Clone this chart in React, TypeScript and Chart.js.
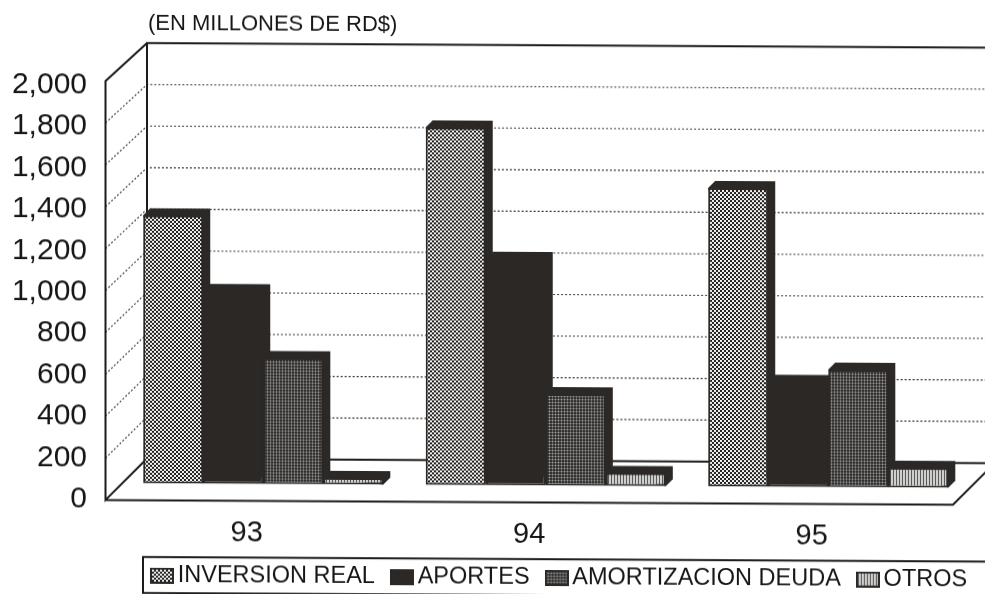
import React, { useEffect, useRef } from "react";
import { Chart, registerables } from "chart.js";

Chart.register(...registerables);

const categories = ["93", "94", "95"];
const inversionReal = [1285, 1715, 1432];
const aportes = [925, 1086, 503];
const amortizacionDeuda = [604, 439, 563];
const otros = [31, 62, 95];
const seriesNames = ["INVERSION REAL", "APORTES", "AMORTIZACION DEUDA", "OTROS"];
const yTickValues = [0, 200, 400, 600, 800, 1000, 1200, 1400, 1600, 1800, 2000];
const titleText = "(EN MILLONES DE RD$)";

const AREA_TOP = 42.2;
const AREA_BOTTOM = 499.4;
const DARK = "#2b2826";
const INK = "#161616";
const FONT = "'Liberation Sans', Arial, sans-serif";

function range(zeroPx: number, topPx: number) {
  const k = (zeroPx - topPx) / 2000;
  return { min: (zeroPx - AREA_BOTTOM) / k, max: (zeroPx - AREA_TOP) / k };
}

function tile(w: number, h: number, paint: (c: CanvasRenderingContext2D) => void) {
  const cv = document.createElement("canvas");
  cv.width = w;
  cv.height = h;
  paint(cv.getContext("2d")!);
  return cv;
}

const paints: ((c: CanvasRenderingContext2D) => void)[] = [
  (c) => {
    c.fillStyle = "#232120";
    c.fillRect(0, 0, 4, 4);
    c.fillStyle = "#f2f2f0";
    c.fillRect(0, 0, 2, 2);
    c.fillRect(2, 2, 2, 2);
  },
  (c) => {
    c.fillStyle = DARK;
    c.fillRect(0, 0, 3, 3);
  },
  (c) => {
    c.fillStyle = "#33312f";
    c.fillRect(0, 0, 3, 3);
    c.fillStyle = "#5f5e5c";
    c.fillRect(0, 0, 3, 1);
    c.fillRect(0, 0, 1, 3);
    c.fillStyle = "#a0a09e";
    c.fillRect(0, 0, 1, 1);
  },
  (c) => {
    c.fillStyle = "#cfcfcd";
    c.fillRect(0, 0, 3, 3);
    c.fillStyle = "#5a5856";
    c.fillRect(2, 0, 1, 3);
  },
];
const tileSizes = [4, 3, 3, 3];

function makeSwatch(i: number) {
  const pat = tile(tileSizes[i], tileSizes[i], paints[i]);
  return tile(24, 16, (c) => {
    c.fillStyle = c.createPattern(pat, "repeat")!;
    c.fillRect(0, 0, 24, 16);
    c.strokeStyle = DARK;
    c.lineWidth = 2;
    c.strokeRect(1, 1, 22, 14);
  });
}

const noPadding = (s: any) => {
  s.paddingTop = 0;
  s.paddingBottom = 0;
  s.paddingLeft = 0;
  s.paddingRight = 0;
};

const stage3d = {
  id: "stage3d",
  beforeLayout(chart: any) {
    const lg = chart.legend;
    const baseFit = Object.getPrototypeOf(lg).fit;
    lg.fit = function () {
      baseFit.call(lg);
      lg.height = 38;
    };
  },
  beforeDraw(chart: any) {
    chart.titleBlock.left = 148;
    chart.legend.left = 135;
    chart.legend.right = 1100;
    chart.legend.top = 540;
    const { ctx, scales } = chart;
    const back = scales.yBack;
    const front = scales.yFront;
    const bx = 147;
    const fx = 105.5;
    const rx = 1000;
    ctx.save();
    ctx.strokeStyle = "#3a3836";
    ctx.lineWidth = 1.1;
    ctx.setLineDash([2, 2]);
    for (let v = 200; v < 2000; v += 200) {
      ctx.beginPath();
      ctx.moveTo(fx, front.getPixelForValue(v));
      ctx.lineTo(bx, back.getPixelForValue(v));
      ctx.lineTo(rx, back.getPixelForValue(v));
      ctx.stroke();
    }
    ctx.setLineDash([]);
    ctx.strokeStyle = "#1c1b1a";
    ctx.lineWidth = 2;
    const b0 = back.getPixelForValue(0);
    const bT = back.getPixelForValue(2000);
    const f0 = front.getPixelForValue(0);
    const fT = front.getPixelForValue(2000);
    ctx.beginPath();
    ctx.moveTo(rx, bT);
    ctx.lineTo(bx, bT);
    ctx.lineTo(bx, b0);
    ctx.lineTo(rx, b0);
    ctx.moveTo(bx, bT);
    ctx.lineTo(fx, fT);
    ctx.lineTo(fx, f0);
    ctx.lineTo(bx, b0);
    ctx.moveTo(fx, f0);
    ctx.lineTo(953, f0);
    ctx.lineTo(953 + (f0 - b0), b0);
    ctx.stroke();
    // legend frame
    ctx.lineWidth = 2;
    ctx.strokeRect(143, 556.2, 900, 36);
    ctx.restore();
  },
  beforeDatasetsDraw(chart: any) {
    const { ctx } = chart;
    const d = 7;
    ctx.save();
    ctx.fillStyle = DARK;
    chart.data.datasets.forEach((_: any, i: number) => {
      chart.getDatasetMeta(i).data.forEach((bar: any) => {
        const left = bar.x - bar.width / 2;
        const right = bar.x + bar.width / 2;
        ctx.beginPath();
        ctx.moveTo(left, bar.y);
        ctx.lineTo(left + d, bar.y - d);
        ctx.lineTo(right + d, bar.y - d);
        ctx.lineTo(right + d, bar.base - d);
        ctx.lineTo(right, bar.base);
        ctx.closePath();
        ctx.fill();
      });
    });
    ctx.restore();
  },
};

export default function App() {
  const ref = useRef<HTMLCanvasElement>(null);
  useEffect(() => {
    const ctx = ref.current!.getContext("2d")!;
    const fills = paints.map((p, i) =>
      ctx.createPattern(tile(tileSizes[i], tileSizes[i], p), "repeat")
    );
    const swatches = paints.map((_, i) => makeSwatch(i));
    const values = [inversionReal, aportes, amortizacionDeuda, otros];
    const hidden = (zero: number, top: number) => ({
      display: false,
      position: "left" as const,
      ...range(zero, top),
    });
    const chart = new Chart(ctx, {
      type: "bar",
      data: {
        labels: categories,
        datasets: seriesNames.map((name, i) => ({
          label: name,
          data: values[i],
          backgroundColor: fills[i] as any,
          borderColor: DARK,
          borderWidth: 2,
          borderSkipped: false,
          categoryPercentage: 0.85,
          barPercentage: 1,
          xAxisID: "x",
          yAxisID: "y",
        })),
      },
      plugins: [stage3d as any],
      options: {
        responsive: false,
        animation: false,
        layout: { autoPadding: false, padding: { left: 0, right: 15.5, top: 0, bottom: 0 } },
        plugins: {
          tooltip: { enabled: false },
          title: {
            display: true,
            text: titleText,
            align: "start",
            color: INK,
            font: { family: FONT, size: 22, weight: "normal" },
            padding: { top: 10, bottom: 5.8 },
          },
          legend: {
            display: true,
            position: "bottom",
            align: "start",
            labels: {
              usePointStyle: true,
              pointStyleWidth: 8,
              padding: 23,
              color: INK,
              font: { family: FONT, size: 23.5 },
              generateLabels: () =>
                seriesNames.map((text, i) => ({
                  text,
                  datasetIndex: i,
                  pointStyle: swatches[i],
                  fontColor: INK,
                  lineWidth: 0,
                })) as any,
            },
          },
        },
        scales: {
          x: {
            offset: true,
            grid: { display: false },
            border: { display: false },
            afterFit: (s: any) => {
              s.height = 56.6;
              noPadding(s);
            },
            ticks: {
              color: INK,
              padding: 6.8,
              labelOffset: -16.5,
              maxRotation: 0,
              font: { family: FONT, size: 29 },
            },
          },
          y: hidden(482.5, 65.5),
          yBack: hidden(457.7, AREA_TOP),
          yFront: hidden(AREA_BOTTOM, 80.4),
          yLabel: {
            position: "left",
            ...range(498.7, 84.7),
            grid: { display: false },
            border: { display: false },
            afterBuildTicks: (s: any) => {
              s.ticks = yTickValues.map((value) => ({ value }));
            },
            afterFit: (s: any) => {
              s.width = 122;
              noPadding(s);
            },
            ticks: {
              autoSkip: false,
              color: INK,
              padding: 27,
              font: { family: FONT, size: 30 },
              callback: (v: any) => Number(v).toLocaleString("en-US"),
            },
          },
        },
      } as any,
    });
    return () => chart.destroy();
  }, []);
  return (
    <div style={{ position: "fixed", left: 0, top: 0, width: 985, height: 594, overflow: "hidden", background: "#fff" }}>
      <canvas
        ref={ref}
        width={985}
        height={594}
        style={{ display: "block", transformOrigin: "0 0", transform: "matrix(1,0.0055,0,1,0,0)" }}
      />
    </div>
  );
}
